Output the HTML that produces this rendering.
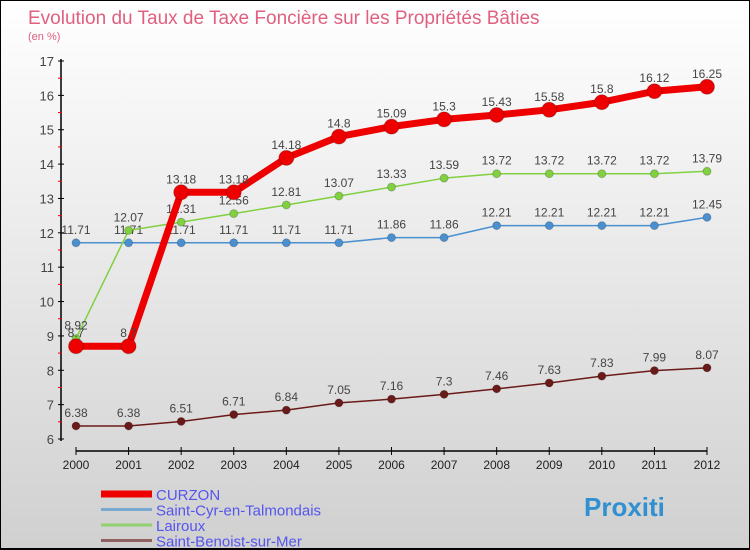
<!DOCTYPE html>
<html><head><meta charset="utf-8">
<style>
body{margin:0;}
#c{width:750px;height:550px;position:relative;overflow:hidden;background:linear-gradient(#ffffff,#d0d0d0);box-sizing:border-box;border:1px solid #000;border-bottom:2px solid #000;font-family:"Liberation Sans",sans-serif;}
svg text{font-family:"Liberation Sans",sans-serif;}
</style></head><body>
<div id="c">
<svg id="s" width="750" height="550">
<text x="27" y="23" font-size="19" fill="#e06080">Evolution du Taux de Taxe Foncière sur les Propriétés Bâties</text>
<text x="27" y="39" font-size="11" fill="#e06080">(en %)</text>
</svg>
</div>
<script>
const years=[2000,2001,2002,2003,2004,2005,2006,2007,2008,2009,2010,2011,2012];
const curzon=[8.7,8.7,13.18,13.18,14.18,14.8,15.09,15.3,15.43,15.58,15.8,16.12,16.25];
const stcyr=[11.71,11.71,11.71,11.71,11.71,11.71,11.86,11.86,12.21,12.21,12.21,12.21,12.45];
const lairoux=[8.92,12.07,12.31,12.56,12.81,13.07,13.33,13.59,13.72,13.72,13.72,13.72,13.79];
const stbenoist=[6.38,6.38,6.51,6.71,6.84,7.05,7.16,7.3,7.46,7.63,7.83,7.99,8.07];
const yTicks=[6,7,8,9,10,11,12,13,14,15,16,17];
const seriesNames=["CURZON","Saint-Cyr-en-Talmondais","Lairoux","Saint-Benoist-sur-Mer"];
const NS="http://www.w3.org/2000/svg";
const svg=document.getElementById('s');
const X=i=>75+i*(706-75)/(years.length-1);
const Y=v=>438-(v-6)*(438-60)/11;
function mk(t,a,p){const e=document.createElementNS(NS,t);for(const k in a)e.setAttribute(k,a[k]);(p||svg).appendChild(e);return e;}
// y axis
let ax=mk('line',{x1:60,y1:58,x2:60,y2:440,stroke:'#000','stroke-width':1.5});


yTicks.forEach(v=>{
 const t=mk('line',{x1:57,y1:Y(v),x2:63,y2:Y(v),stroke:'#000'});
 
 
 const l=mk('text',{x:53,y:Y(v)+5,'font-size':13,fill:'#444','text-anchor':'end'});l.textContent=v;
 
 
 if(v<17){const m=mk('line',{x1:57,y1:Y(v+0.5),x2:61,y2:Y(v+0.5),stroke:'#e00'});
 
 }
});
// x axis
let xa=mk('line',{x1:X(0),y1:450,x2:X(12),y2:450,stroke:'#000','stroke-width':1.5});


years.forEach((y,i)=>{
 const t=mk('line',{x1:X(i),y1:446,x2:X(i),y2:454,stroke:'#000'});
 
 
 const l=mk('text',{x:X(i),y:468,'font-size':12,fill:'#222','text-anchor':'middle'});l.textContent=y;
 
 
});
function series(data,color,w,r,name,lab){
 const g=mk('g',{});
 
 
 mk('polyline',{points:data.map((v,i)=>X(i)+','+Y(v)).join(' '),fill:'none',stroke:color,'stroke-width':w,'stroke-linejoin':'round'},g);
 data.forEach((v,i)=>{
  const c=mk('circle',{cx:X(i),cy:Y(v),r:r,fill:color,stroke:'#0003'},g);
  
  
  const t=mk('text',{x:X(i),y:Y(v)-9,'font-size':12,fill:'#444','text-anchor':'middle'},g);
  t.textContent=v;
  
  
 });
}
series(stbenoist,'#6b1a1a',1.5,4,'series-saint-benoist');
series(stcyr,'#4a90d0',1.5,4,'series-saint-cyr');
series(lairoux,'#80d040',1.5,4,'series-lairoux');
series(curzon,'#ee0000',7,7.5,'series-curzon');
// legend
const lc=['#ee0000','#7aaad0','#90d070','#906060'];
const lw=[7,3,3,3];
seriesNames.forEach((n,i)=>{
 const y=493+i*15.5;
 const l=mk('line',{x1:100,y1:y,x2:151,y2:y,stroke:lc[i],'stroke-width':lw[i]});
 
 
 const t=mk('text',{x:155,y:y+6,'font-size':15,fill:'#5555ee'});t.textContent=n;
 
 
});
const b=mk('text',{x:583,y:515,'font-size':26,'font-weight':'bold',fill:'#3090d0'});
b.textContent='Proxiti';


</script>
</body></html>
